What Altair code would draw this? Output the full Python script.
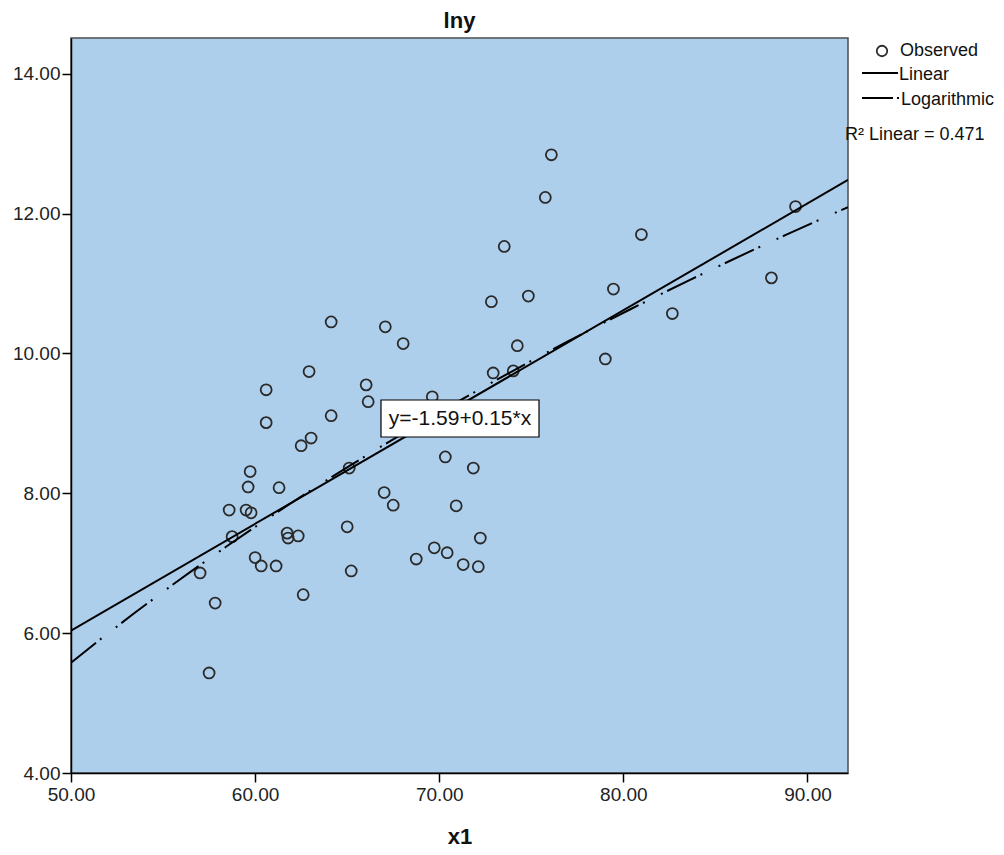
import altair as alt
import pandas as pd

# ---- data ----
x1 = [57.50, 57.83, 57.01, 58.59, 58.75, 59.51, 59.78, 59.62, 59.73, 60.00,
      60.33, 60.60, 60.60, 61.14, 61.30, 61.74, 61.79, 62.34, 62.61, 62.50,
      63.04, 62.93, 64.13, 64.13, 65.00, 65.11, 65.22, 66.03, 66.14, 67.07,
      67.01, 67.50, 68.04, 68.75, 69.62, 69.73, 70.43, 70.33, 70.92, 71.30,
      71.85, 72.12, 72.23, 72.83, 72.93, 73.53, 74.02, 74.24, 74.84, 75.76,
      76.09, 79.02, 79.46, 80.98, 82.66, 88.04, 89.35]
lny = [5.43, 6.43, 6.86, 7.76, 7.38, 7.76, 7.72, 8.09, 8.31, 7.08,
       6.96, 9.01, 9.48, 6.96, 8.08, 7.43, 7.36, 7.39, 6.55, 8.68,
       8.79, 9.74, 10.45, 9.11, 7.52, 8.36, 6.89, 9.55, 9.31, 10.38,
       8.01, 7.83, 10.14, 7.06, 9.38, 7.22, 7.15, 8.52, 7.82, 6.98,
       8.36, 6.95, 7.36, 10.74, 9.72, 11.53, 9.75, 10.11, 10.82, 12.23,
       12.84, 9.92, 10.92, 11.70, 10.57, 11.08, 12.10]
x_ticks = [50, 60, 70, 80, 90]
y_ticks = [4, 6, 8, 10, 12, 14]
x_domain = [50, 92.2]
y_domain = [4, 14.51]
legend_labels = ["Observed", "Linear", "Logarithmic"]
r2_label = "R² Linear = 0.471"
fit_label = "y=-1.59+0.15*x"
chart_title = "lny"
x_title = "x1"

df = pd.DataFrame({"x1": x1, "lny": lny})
one = pd.DataFrame({"k": [0]})

FONT = "Liberation Sans"
W, H = 777, 735

xs = alt.Scale(domain=x_domain, nice=False, zero=False)
ys = alt.Scale(domain=y_domain, nice=False, zero=False)

xax = alt.Axis(values=x_ticks, format=".2f", title=x_title, grid=False,
               domainColor="black", domainWidth=1.5, tickColor="black", tickWidth=1.5,
               tickSize=9, labelFont=FONT, labelFontSize=19, labelColor="#222",
               labelPadding=3, labelFlush=False, titleFont=FONT, titleFontSize=22,
               titleFontWeight="bold", titleColor="#111", titlePadding=22)
yax = alt.Axis(values=y_ticks, format=".2f", title="", grid=False,
               domainColor="black", domainWidth=1.5, tickColor="black", tickWidth=1.5,
               tickSize=9, labelFont=FONT, labelFontSize=19, labelColor="#222",
               labelPadding=2, labelFlush=False)

base = alt.Chart(df)

points = base.mark_point(shape="circle", size=120, strokeWidth=1.8,
                         color="#2a2a2a", filled=False, opacity=1).encode(
    x=alt.X("x1:Q", scale=xs, axis=xax),
    y=alt.Y("lny:Q", scale=ys, axis=yax),
)

lin = base.transform_regression("x1", "lny", method="linear", extent=x_domain).mark_line(
    color="black", strokeWidth=2, clip=True).encode(
    x=alt.X("x1:Q", scale=xs), y=alt.Y("lny:Q", scale=ys))

logl = base.transform_regression("x1", "lny", method="log", extent=x_domain).mark_line(
    color="black", strokeWidth=2, clip=True, strokeDash=[32, 5, 2, 18, 2, 5]).encode(
    x=alt.X("x1:Q", scale=xs), y=alt.Y("lny:Q", scale=ys))

# fit label box
box = alt.Chart(one).mark_rect(fill="white", stroke="black", strokeWidth=1.2).encode(
    x=alt.value(310), x2=alt.value(468), y=alt.value(362), y2=alt.value(399))
box_text = alt.Chart(one).mark_text(font=FONT, fontSize=21, color="#111",
                                    align="center", baseline="middle").encode(
    x=alt.value(389), y=alt.value(381), text=alt.value(fit_label))

# custom legend (right of the plot)
leg_circle = alt.Chart(one).mark_point(shape="circle", size=110, strokeWidth=1.8,
                                       color="#2a2a2a", filled=False, opacity=1).encode(
    x=alt.value(811), y=alt.value(13))
leg_lin = alt.Chart(one).mark_rule(color="black", strokeWidth=2).encode(
    x=alt.value(791), x2=alt.value(827), y=alt.value(35))
leg_log = alt.Chart(one).mark_rule(color="black", strokeWidth=2, strokeDash=[31, 4, 2, 20]).encode(
    x=alt.value(791), x2=alt.value(829), y=alt.value(60))
leg_df = pd.DataFrame({"label": legend_labels, "px": [829, 828, 830], "py": [13, 37, 62]})
leg_text = alt.Chart(leg_df).mark_text(font=FONT, fontSize=18, color="#111",
                                       align="left", baseline="middle").encode(
    x=alt.X("px:Q", scale=None), y=alt.Y("py:Q", scale=None), text="label:N")
r2_text = alt.Chart(one).mark_text(font=FONT, fontSize=18, color="#111",
                                   align="left", baseline="middle").encode(
    x=alt.value(774), y=alt.value(97), text=alt.value(r2_label))

chart = alt.layer(points, lin, logl, box, box_text, leg_circle, leg_lin, leg_log,
                  leg_text, r2_text).properties(
    width=W, height=H,
    background="white",
    title=alt.TitleParams(chart_title, font=FONT, fontSize=22, fontWeight="bold",
                          anchor="middle", offset=5, color="#111"),
    autosize=alt.AutoSizeParams(type="none"),
    padding={"left": 63, "top": 30, "right": 148, "bottom": 74},
).configure_view(
    fill="#AECFEC", stroke="#4d4d4d", strokeWidth=1.5
)

chart.save("out.html", embed_options={"renderer": "svg", "actions": False})
